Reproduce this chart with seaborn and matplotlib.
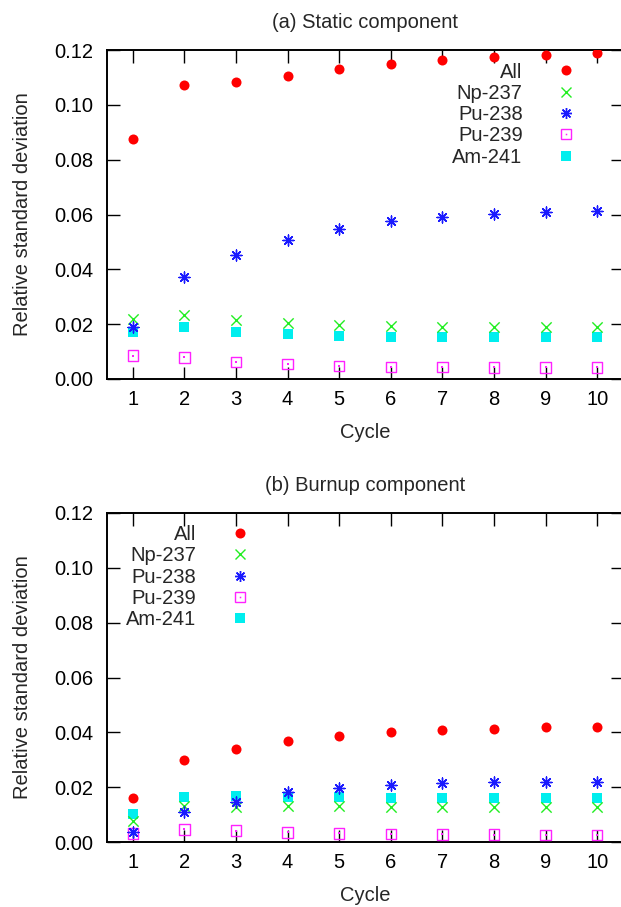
import matplotlib
matplotlib.use("Agg")
import matplotlib.pyplot as plt
import seaborn as sns
import numpy as np

cycles = [1, 2, 3, 4, 5, 6, 7, 8, 9, 10]
series = ["All", "Np-237", "Pu-238", "Pu-239", "Am-241"]

static_all = [0.0874, 0.1072, 0.1082, 0.1106, 0.1129, 0.1149, 0.1163, 0.1174, 0.1182, 0.1188]
static_np237 = [0.0218, 0.0232, 0.0215, 0.0204, 0.0197, 0.0193, 0.0191, 0.0190, 0.0190, 0.0189]
static_pu238 = [0.0190, 0.0371, 0.0451, 0.0508, 0.0548, 0.0575, 0.0592, 0.0602, 0.0608, 0.0611]
static_pu239 = [0.0085, 0.0079, 0.0062, 0.0054, 0.0047, 0.0044, 0.0043, 0.0042, 0.0042, 0.0042]
static_am241 = [0.0173, 0.0190, 0.0173, 0.0165, 0.0158, 0.0154, 0.0154, 0.0152, 0.0152, 0.0152]

burnup_all = [0.0162, 0.0299, 0.0339, 0.0367, 0.0387, 0.0400, 0.0408, 0.0413, 0.0418, 0.0421]
burnup_np237 = [0.0077, 0.0132, 0.0129, 0.0130, 0.0130, 0.0129, 0.0129, 0.0129, 0.0129, 0.0129]
burnup_pu238 = [0.0036, 0.0108, 0.0147, 0.0184, 0.0198, 0.0208, 0.0215, 0.0219, 0.0220, 0.0220]
burnup_pu239 = [0.0032, 0.0046, 0.0041, 0.0035, 0.0032, 0.0029, 0.0028, 0.0027, 0.0026, 0.0026]
burnup_am241 = [0.0102, 0.0165, 0.0168, 0.0165, 0.0164, 0.0162, 0.0161, 0.0161, 0.0161, 0.0161]

titles = ["(a) Static component", "(b) Burnup component"]
yticks = [0.00, 0.02, 0.04, 0.06, 0.08, 0.10, 0.12]

sns.set_style("ticks")
plt.rcParams["font.family"] = ["Liberation Sans", "DejaVu Sans"]
FS = 14.5
plt.rcParams["font.size"] = FS

fig = plt.figure(figsize=(6.21, 9.07), dpi=100)
W, H = 621, 907
ax_top = fig.add_axes([107 / W, (H - 379) / H, 516 / W, 329 / H])
ax_bot = fig.add_axes([107 / W, (H - 842) / H, 516 / W, 329 / H])

datasets = [
    [static_all, static_np237, static_pu238, static_pu239, static_am241],
    [burnup_all, burnup_np237, burnup_pu238, burnup_pu239, burnup_am241],
]

RED = "#ff0000"
GREEN = "#22ee22"
BLUE = "#1a1aff"
MAGENTA = "#ff22ff"
CYAN = "#00eeee"

for ax, data, title in zip([ax_top, ax_bot], datasets, titles):
    s_all, s_np, s_pu8, s_pu9, s_am = data
    # Pu-239 open square with center dot
    sns.scatterplot(x=cycles, y=s_pu9, marker="s", s=58, facecolors="none",
                    edgecolor=MAGENTA, linewidth=1.0, ax=ax, zorder=3)
    sns.scatterplot(x=cycles, y=s_pu9, marker="s", s=1.2, color=MAGENTA,
                    linewidth=0, ax=ax, zorder=3)
    sns.scatterplot(x=cycles, y=s_am, marker="s", s=55, color=CYAN,
                    linewidth=0, ax=ax, zorder=3)
    sns.scatterplot(x=cycles, y=s_np, marker="x", s=55, color=GREEN,
                    linewidth=1.0, ax=ax, zorder=3)
    sns.scatterplot(x=cycles, y=s_pu8, marker=(8, 2, 0), s=62, color=BLUE,
                    edgecolor=BLUE, linewidth=1.0, ax=ax, zorder=3)
    sns.scatterplot(x=cycles, y=s_all, marker="o", s=52, color=RED,
                    linewidth=0, ax=ax, zorder=3)

    h_all = plt.Line2D([], [], ls="none", marker="o", ms=7.2, mfc=RED, mec=RED, mew=0)
    h_np = plt.Line2D([], [], ls="none", marker="x", ms=7.4, color=GREEN, mew=1.0)
    h_pu8 = plt.Line2D([], [], ls="none", marker=(8, 2, 0), ms=7.9, color=BLUE, mew=1.0)
    h_pu9a = plt.Line2D([], [], ls="none", marker="s", ms=7.6, mfc="none", mec=MAGENTA, mew=1.0)
    h_pu9b = plt.Line2D([], [], ls="none", marker="s", ms=1.1, mfc=MAGENTA, mec=MAGENTA, mew=0)
    h_am = plt.Line2D([], [], ls="none", marker="s", ms=7.4, mfc=CYAN, mec=CYAN, mew=0)

    ax.set_xlim(0.5, 10.5)
    ax.set_ylim(0, 0.12)
    ax.set_xticks(cycles)
    ax.set_xticklabels([str(c) for c in cycles])
    ax.set_yticks(yticks)
    ax.set_yticklabels([f"{v:.2f}" for v in yticks])
    ax.tick_params(direction="in", top=True, right=True, length=9, width=1.0,
                   labelsize=FS, pad=8, colors="black")
    ax.tick_params(axis="y", pad=10)
    for sp in ax.spines.values():
        sp.set_linewidth(1.4)
        sp.set_color("black")
    ax.set_xlabel("Cycle", fontsize=FS, labelpad=10)
    ax.set_ylabel("Relative standard deviation", fontsize=FS, labelpad=16)
    ax.set_title(title, fontsize=FS, pad=16)

    if ax is ax_top:
        loc = (0.909, 0.962)
    else:
        loc = (0.277, 0.963)
    ax.legend([h_all, h_np, h_pu8, (h_pu9a, h_pu9b), h_am], series,
              loc="upper right", bbox_to_anchor=loc, frameon=False,
              markerfirst=False, fontsize=FS, labelspacing=0.115,
              handlelength=1.0, handletextpad=1.65, borderpad=0.0,
              borderaxespad=0.0)

fig.savefig("out.png", dpi=100)
